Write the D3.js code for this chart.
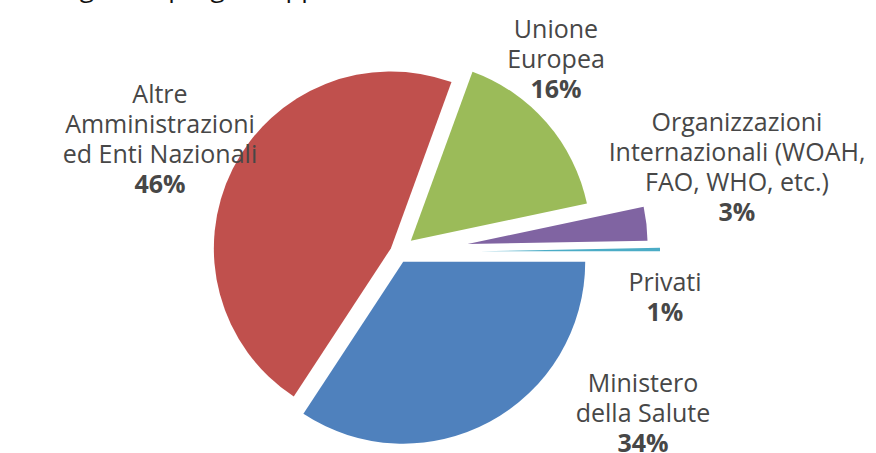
<!DOCTYPE html>
<html><head><meta charset="utf-8">
<script src="https://cdn.jsdelivr.net/npm/d3@7/dist/d3.min.js"></script>
<style>
html,body{margin:0;padding:0;background:#fff;}
svg{display:block;}
text{font-family:"Open Sans","Noto Sans",sans-serif;}
</style></head>
<body>
<svg id="chart" width="876" height="453"></svg>
<script>
// ---- data ----
const categories = ["Ministero della Salute", "Altre Amministrazioni ed Enti Nazionali", "Unione Europea", "Organizzazioni Internazionali (WOAH, FAO, WHO, etc.)", "Privati"];
const values = [34, 46, 16, 3, 0.3];
const pctLabels = ["34%", "46%", "16%", "3%", "1%"];
const labelLines = [
  ["Ministero", "della Salute"],
  ["Altre", "Amministrazioni", "ed Enti Nazionali"],
  ["Unione", "Europea"],
  ["Organizzazioni", "Internazionali (WOAH,", "FAO, WHO, etc.)"],
  ["Privati"]
];
const colors = ["#4F81BD", "#C0504D", "#9BBB59", "#8064A2", "#4BACC6"];
const titleText = "Budget dei progetti approvati,";

// ---- layout ----
const W = 876, H = 453;
const cx = 398, cy = 252;
const radii = [182, 177, 180, 180, 180];
const explode = [11, 8, 17, 70, 82];
const labelPos = [
  {x: 643, y: 392}, {x: 160, y: 103}, {x: 556, y: 38}, {x: 737, y: 131}, {x: 665, y: 291}
];
const lineH = 30;

const svg = d3.select("#chart");

// partially visible title (cut off at top edge)
svg.append("text").attr("x", 31).attr("y", -3.5)
  .attr("font-size", 26).attr("fill", "#111").text(titleText);

const pie = d3.pie().sort(null).value(d => d)
  .startAngle(Math.PI / 2).endAngle(Math.PI / 2 + 2 * Math.PI);
const arcs = pie(values);
const arc = d3.arc().innerRadius(0).outerRadius((d, i) => radii[i]);

const g = svg.append("g").attr("transform", `translate(${cx},${cy})`);
g.selectAll("path").data(arcs).join("path")
  .attr("d", (d, i) => arc(d, i))
  .attr("fill", (d, i) => colors[i])
  .attr("transform", (d, i) => {
    const a = (d.startAngle + d.endAngle) / 2;
    return `translate(${Math.sin(a) * explode[i]},${-Math.cos(a) * explode[i]})`;
  });

// labels
const lab = svg.append("g");
labelLines.forEach((lines, i) => {
  const p = labelPos[i];
  const t = lab.append("text").attr("text-anchor", "middle").attr("font-size", 25).attr("fill", "#474747");
  lines.forEach((ln, k) => {
    t.append("tspan").attr("x", p.x).attr("y", p.y + k * lineH).text(ln);
  });
  t.append("tspan").attr("x", p.x).attr("y", p.y + lines.length * lineH)
    .attr("font-weight", "bold").text(pctLabels[i]);
});
</script>
</body></html>
